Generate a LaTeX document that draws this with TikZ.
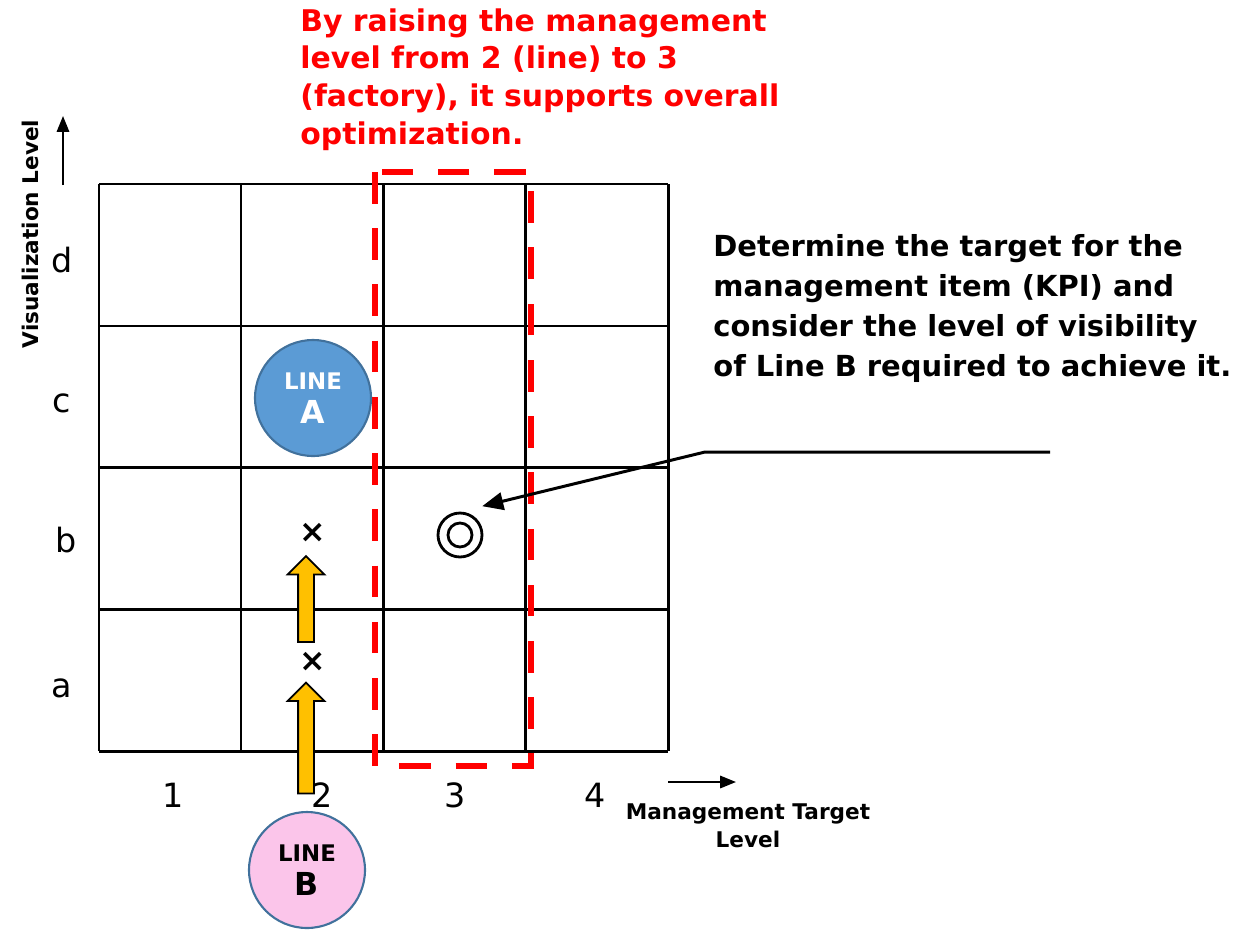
\documentclass[tikz,border=0pt]{standalone}
\usepackage{fontspec}
\setmainfont{DejaVu Sans}
\usetikzlibrary{arrows.meta,shapes.arrows}

\definecolor{lineblue}{HTML}{5B9BD5}
\definecolor{lineedge}{HTML}{41719C}
\definecolor{linepink}{HTML}{FBC5EA}
\definecolor{upyellow}{HTML}{FFC000}

\begin{document}
\begin{tikzpicture}[x=0.02cm,y=-0.02cm,>={Triangle[length=9pt,width=7pt]},
    grid/.style={line width=1.7pt},
    lbl/.style={font=\fontsize{19}{22}\selectfont},
    axis/.style={font=\bfseries\fontsize{12.3}{16}\selectfont,align=center},
    linecircle/.style={circle,draw=lineedge,line width=1.2pt,minimum size=2.32cm,
      inner sep=0pt,align=center,font=\bfseries\fontsize{13}{19}\selectfont},
    uparrow/.style={single arrow,draw,line width=1pt,fill=upyellow,rotate=90,
      inner xsep=0pt,inner ysep=0.14cm,single arrow head extend=0.21cm}]
  \useasboundingbox (0,0) rectangle (1253,933);

  % grid
  \foreach \x in {99,241,383,525,668}
    \draw[grid] (\x,184) -- (\x,751);
  \foreach \y in {184,326,467,609,751}
    \draw[grid] (99,\y) -- (668,\y);

  % axis labels
  \node[lbl] (rowd) at (62,260) {d};
  \node[lbl] (rowc) at (62,403) {c};
  \node[lbl] (rowb) at (66,540) {b};
  \node[lbl] (rowa) at (62,688) {a};
  \node[lbl] (col1) at (173,795) {1};
  \node[lbl] (col2) at (322,795) {2};
  \node[lbl] (col3) at (455,795) {3};
  \node[lbl] (col4) at (595,795) {4};

  \coordinate (ybot) at (63,185);
  \coordinate (ytop) at (63,116);
  \draw[->,line width=1.2pt] (ybot) -- (ytop);
  \node[axis,rotate=90] (vislevel) at (30,234) {Visualization Level};
  \coordinate (xleft) at (668,782);
  \coordinate (xright) at (736,782);
  \draw[->,line width=1.2pt] (xleft) -- (xright);
  \node[axis] (mgmtlevel) at (748,826) {Management Target\\Level};

  % focus column
  \draw[red,line width=3.4pt,dash pattern=on 18pt off 14pt] (375,172) rectangle (531,766);
  \node[red,font=\bfseries\fontsize{17}{21.5}\selectfont,align=left,anchor=north west,inner sep=0pt]
    (raise) at (300,8) {By raising the management\\level from 2 (line) to 3\\(factory), it supports overall\\optimization.};

  % lines
  \node[linecircle,fill=lineblue,text=white] (lineA) at (313,398) {LINE\\{\fontsize{18}{19}\selectfont A}};
  \node[linecircle,fill=linepink] (lineB) at (307,870) {LINE\\{\fontsize{18}{19}\selectfont B}};
  \node[uparrow,minimum height=1.72cm] (up1) at (306,603) {};
  \node[uparrow,minimum height=2.22cm] (up2) at (306,742) {};
  \node[font=\bfseries\fontsize{18}{20}\selectfont] (missb) at (313,533) {×};
  \node[font=\bfseries\fontsize{18}{20}\selectfont] (missa) at (313,662) {×};

  % target
  \node[circle,draw,line width=1.6pt,minimum size=0.88cm,inner sep=0pt] (target) at (460,535) {};
  \node[circle,draw,line width=1.6pt,minimum size=0.48cm,inner sep=0pt] (targetin) at (460,535) {};

  \node[font=\bfseries\fontsize{16.5}{22.8}\selectfont,align=left,anchor=north west,inner sep=0pt]
    (kpi) at (713,234) {Determine the target for the\\management item (KPI) and\\consider the level of visibility\\of Line B required to achieve it.};
  \coordinate (kpiend) at (1050,452);
  \coordinate (kpibend) at (705,452);
  \draw[-{Triangle[length=12pt,width=10pt]},line width=1.7pt,shorten >=13pt] (kpiend) -- (kpibend) -- (target.north);
\end{tikzpicture}
\end{document}
